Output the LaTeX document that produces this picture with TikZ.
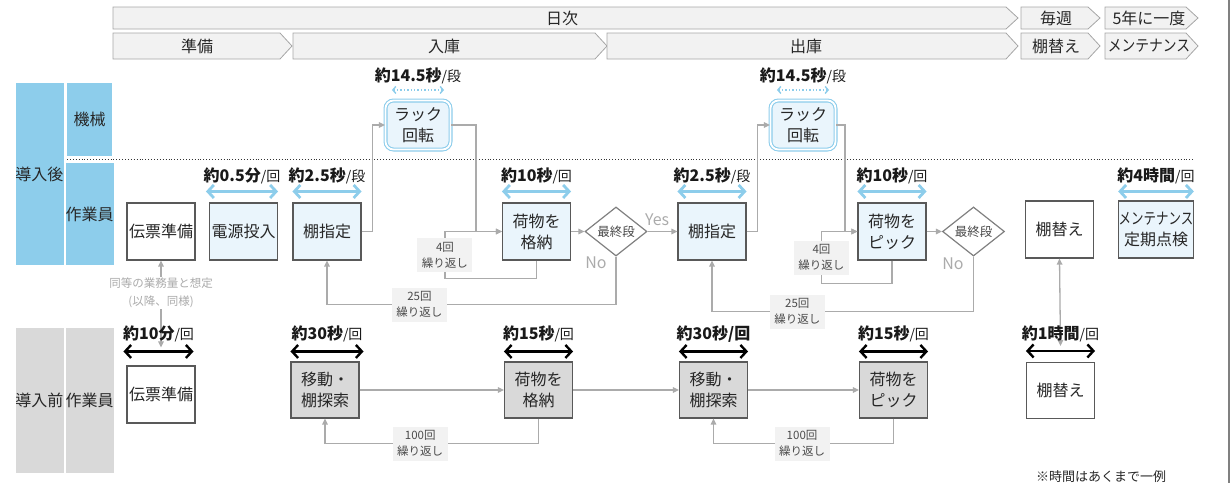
\documentclass[tikz,border=0pt]{standalone}
\usepackage{fontspec}
\setmainfont{Noto Sans CJK JP}
\usetikzlibrary{positioning, shapes.geometric, arrows.meta}

\definecolor{laneblue}{HTML}{8DCDEB}
\definecolor{boxblue}{HTML}{EAF5FC}
\definecolor{lanegray}{HTML}{D9D9D9}
\definecolor{hdrfill}{HTML}{F2F2F2}
\definecolor{hdrline}{HTML}{A6A6A6}
\definecolor{flowgray}{HTML}{ABABAB}
\definecolor{notefill}{HTML}{F2F2F2}

\newcommand{\perunit}[1]{{\mdseries\fontsize{14}{16}\selectfont /#1}}

\begin{document}
\begin{tikzpicture}[x=1pt, y=-1pt,
  gtip/.tip={Triangle[length=6pt, width=5.5pt]},
  btip/.tip={Straight Barb[length=6pt, width=13pt]},
  hdr/.style={draw=hdrline, fill=hdrfill, line width=0.8pt},
  hdrtext/.style={inner sep=0, text=black!85, font=\fontsize{16}{18}\selectfont},
  lane/.style={fill=laneblue, minimum width=45pt, inner sep=0, text=black!85, font=\fontsize{16}{18}\selectfont},
  stagebox/.style={rectangle, draw=black!65, line width=1.1pt, fill=white, minimum width=68pt, minimum height=57pt, inner sep=0, align=center, text=black!85, font=\fontsize{16}{21}\selectfont},
  rack/.style={rectangle, rounded corners=8pt, draw=laneblue, double=white, double distance=1.8pt, line width=1.1pt, fill=boxblue, minimum width=65pt, minimum height=49pt, inner sep=0, align=center, text=black!85, font=\fontsize{16}{21}\selectfont},
  decide/.style={diamond, draw=black!50, line width=1.2pt, fill=white, minimum width=62pt, minimum height=46pt, inner sep=0, text=black!70, font=\fontsize{12.5}{14}\selectfont},
  conn/.style={draw=flowgray, line width=1.3pt, -gtip},
  conn2/.style={draw=flowgray, line width=1.3pt, gtip-gtip},
  loopnote/.style={fill=notefill, inner sep=0, minimum width=55pt, minimum height=34pt, align=center, text=black!70, font=\fontsize{11.5}{16}\selectfont},
  eqnote/.style={fill=white, inner sep=1pt, align=center, text=flowgray, font=\fontsize{11.5}{18}\selectfont},
  flowtext/.style={inner sep=0, text=flowgray, font=\fontsize{16}{18}\selectfont},
  bspan/.style={draw=laneblue, line width=2.8pt, btip-btip},
  kspan/.style={draw=black, line width=2.4pt, btip-btip},
  dspan/.style={draw=laneblue, line width=1.4pt, dotted, {Straight Barb[length=3pt, width=7pt]}-{Straight Barb[length=3pt, width=7pt]}},
  tlab/.style={inner sep=0, text=black!90, font=\fontsize{16}{18}\selectfont\bfseries}
]
  \useasboundingbox (0,0) rectangle (1232,483);

  % Zeitleiste oben
  \path[hdr] (113,7) -- (1006,7) -- (1018,18) -- (1006,29) -- (113,29) -- cycle;
  \path[hdr] (1021,7) -- (1088,7) -- (1100,18) -- (1088,29) -- (1021,29) -- cycle;
  \path[hdr] (1105,7) -- (1186,7) -- (1198,18) -- (1186,29) -- (1105,29) -- cycle;
  \path[hdr] (113,33) -- (280,33) -- (292,46) -- (280,59) -- (113,59) -- cycle;
  \path[hdr] (293,33) -- (595,33) -- (607,46) -- (595,59) -- (293,59) -- cycle;
  \path[hdr] (607,33) -- (1006,33) -- (1018,46) -- (1006,59) -- (607,59) -- cycle;
  \path[hdr] (1021,33) -- (1088,33) -- (1100,46) -- (1088,59) -- (1021,59) -- cycle;
  \path[hdr] (1105,33) -- (1186,33) -- (1198,46) -- (1186,59) -- (1105,59) -- cycle;
  \node[hdrtext] (h_daily) at (562,18) {日次};
  \node[hdrtext] (h_week) at (1056,18) {毎週};
  \node[hdrtext] (h_five) at (1149,18) {5年に一度};
  \node[hdrtext] (h_prep) at (197,46) {準備};
  \node[hdrtext] (h_in) at (444,46) {入庫};
  \node[hdrtext] (h_out) at (806,46) {出庫};
  \node[hdrtext] (h_swap) at (1056,46) {棚替え};
  \node[hdrtext] (h_mnt) at (1149,46) {\scalebox{0.86}[1]{メンテナンス}};

  % Bahnen links
  \node[lane, minimum height=182pt] (l_after) at (39.5,174) {導入後};
  \node[lane, minimum height=73pt] (l_mech) at (89.5,119.5) {機械};
  \node[lane, minimum height=102pt] (l_wrk) at (89.5,214) {作業員};
  \node[lane, fill=lanegray, minimum height=145pt] (l_before) at (39.5,400.5) {導入前};
  \node[lane, fill=lanegray, minimum height=145pt] (l_wrk2) at (89.5,400.5) {作業員};
  \draw[dotted, line width=0.9pt, black!80] (67,159.5) -- (1195,159.5);

  % 導入後
  \node[stagebox] (a_den) at (161,231.5) {伝票準備};
  \node[stagebox, fill=boxblue] (a_pow) at (243.5,231.5) {電源投入};
  \node[stagebox, fill=boxblue] (a_sh1) at (327,231.5) {棚指定};
  \node[rack] (a_rk1) at (418,125) {ラック\\回転};
  \node[stagebox, fill=boxblue] (a_st) at (536.5,231.5) {荷物を\\格納};
  \node[decide] (a_d1) at (616,231.5) {最終段};
  \node[stagebox, fill=boxblue] (a_sh2) at (712,231.5) {棚指定};
  \node[rack] (a_rk2) at (803,125) {ラック\\回転};
  \node[stagebox, fill=boxblue] (a_pk) at (892,231.5) {荷物を\\ピック};
  \node[decide] (a_d2) at (973.5,231.5) {最終段};
  \node[stagebox] (a_swp) at (1059.5,229.5) {棚替え};
  \node[stagebox, fill=boxblue] (a_mnt) at (1156,229.5) {\scalebox{0.78}[1]{メンテナンス}\\定期点検};
  \node[flowtext] (no1) at (596,263) {No};
  \node[flowtext] (no2) at (953,264) {No};

  \draw[conn] (a_sh1.east) -- ++(11,0) |- (a_rk1.west);
  \draw[conn] (a_rk1.east) -- ++(25,0) |- (a_st.west);
  \draw[conn] (a_st.south) -- ++(0,18) -| node[pos=0.75, loopnote] {4回\\繰り返し} ([xshift=-57pt]a_st.west) -- (a_st.west);
  \draw[conn] (a_st) -- (a_d1);
  \draw[conn] (a_d1) -- node[pos=0.32, above=5pt, flowtext] (yes1) {Yes} (a_sh2);
  \draw[conn] (a_d1.south) -- ++(0,48) -| node[pos=0.34, loopnote] {25回\\繰り返し} (a_sh1.south);
  \draw[conn] (a_sh2.east) -- ++(11,0) |- (a_rk2.west);
  \draw[conn] (a_rk2.east) -- ++(9,0) |- (a_pk.west);
  \draw[conn] (a_pk.south) -- ++(0,23) -| node[pos=0.75, loopnote] {4回\\繰り返し} ([xshift=-36pt]a_pk.west) -- (a_pk.west);
  \draw[conn] (a_pk) -- (a_d2);
  \draw[conn] (a_d2.south) -- ++(0,55) -| node[pos=0.337, loopnote] {25回\\繰り返し} (a_sh2.south);

  % 導入前
  \node[stagebox] (b_den) at (161,394.5) {伝票準備};
  \node[stagebox, fill=lanegray, minimum height=56pt] (b_mv1) at (325,390) {移動・\\棚探索};
  \node[stagebox, fill=lanegray, minimum height=56pt] (b_st) at (538.5,390) {荷物を\\格納};
  \node[stagebox, fill=lanegray, minimum height=56pt] (b_mv2) at (713.5,390) {移動・\\棚探索};
  \node[stagebox, fill=lanegray, minimum height=56pt] (b_pk) at (893.5,390) {荷物を\\ピック};
  \node[stagebox, minimum height=56pt] (b_swp) at (1060.5,390.5) {棚替え};

  \draw[conn] (b_mv1) -- (b_st);
  \draw[conn] (b_st.south) -- ++(0,25) -| node[pos=0.277, loopnote] {100回\\繰り返し} (b_mv1.south);
  \draw[conn] (b_st) -- (b_mv2);
  \draw[conn] (b_mv2) -- (b_pk);
  \draw[conn] (b_pk.south) -- ++(0,25) -| node[pos=0.254, loopnote] {100回\\繰り返し} (b_mv2.south);

  \draw[conn2] (a_den.south) -- node[pos=0.37, eqnote] {同等の業務量と想定\\(以降、同様)} ([yshift=18pt]b_den.north);
  \draw[conn2] (a_swp.south) -- ([yshift=16pt]b_swp.north);

  % Zeitangaben
  \draw[dspan] ([xshift=7pt, yshift=10pt]a_rk1.north west) -- ([xshift=-7pt, yshift=10pt]a_rk1.north east) node[midway, above=5pt, tlab] {約14.5秒\perunit{段}};
  \draw[dspan] ([xshift=7pt, yshift=10pt]a_rk2.north west) -- ([xshift=-7pt, yshift=10pt]a_rk2.north east) node[midway, above=5pt, tlab] {約14.5秒\perunit{段}};
  \draw[bspan] ([xshift=-3pt, yshift=11pt]a_pow.north west) -- ([yshift=11pt]a_pow.north east) node[midway, above=6pt, tlab] {約0.5分\perunit{回}};
  \draw[bspan] ([yshift=11pt]a_sh1.north west) -- ([yshift=11pt]a_sh1.north east) node[midway, above=6pt, tlab] {約2.5秒\perunit{段}};
  \draw[bspan] ([yshift=11pt]a_st.north west) -- ([yshift=11pt]a_st.north east) node[midway, above=6pt, tlab] {約10秒\perunit{回}};
  \draw[bspan] ([yshift=11pt]a_sh2.north west) -- ([yshift=11pt]a_sh2.north east) node[midway, above=6pt, tlab] {約2.5秒\perunit{段}};
  \draw[bspan] ([yshift=11pt]a_pk.north west) -- ([yshift=11pt]a_pk.north east) node[midway, above=6pt, tlab] {約10秒\perunit{回}};
  \draw[bspan] ([yshift=9pt]a_mnt.north west) -- ([yshift=9pt]a_mnt.north east) node[midway, above=6pt, tlab] {約4時間\perunit{回}};

  \draw[kspan] ([xshift=-3pt, yshift=14pt]b_den.north west) -- ([xshift=-2pt, yshift=14pt]b_den.north east) node[midway, above=8pt, tlab] {約10分\perunit{回}};
  \draw[kspan] ([yshift=10pt]b_mv1.north west) -- ([xshift=4pt, yshift=10pt]b_mv1.north east) node[midway, above=8pt, tlab] {約30秒\perunit{回}};
  \draw[kspan] ([yshift=10pt]b_st.north west) -- ([yshift=10pt]b_st.north east) node[midway, above=8pt, tlab] {約15秒\perunit{回}};
  \draw[kspan] ([yshift=10pt]b_mv2.north west) -- ([yshift=10pt]b_mv2.north east) node[midway, above=8pt, tlab] {約30秒/回};
  \draw[kspan] ([yshift=10pt]b_pk.north west) -- ([yshift=10pt]b_pk.north east) node[midway, above=8pt, tlab] {約15秒\perunit{回}};
  \draw[kspan] ([yshift=11pt]b_swp.north west) -- ([yshift=11pt]b_swp.north east) node[midway, above=8pt, tlab] {約1時間\perunit{回}};

  \node[inner sep=0, text=black!85, font=\fontsize{13}{15}\selectfont] (foot) at (1101,477) {※時間はあくまで一例};
  \draw[line width=2.5pt, black!50] (1229,0) -- (1229,483);
\end{tikzpicture}
\end{document}
